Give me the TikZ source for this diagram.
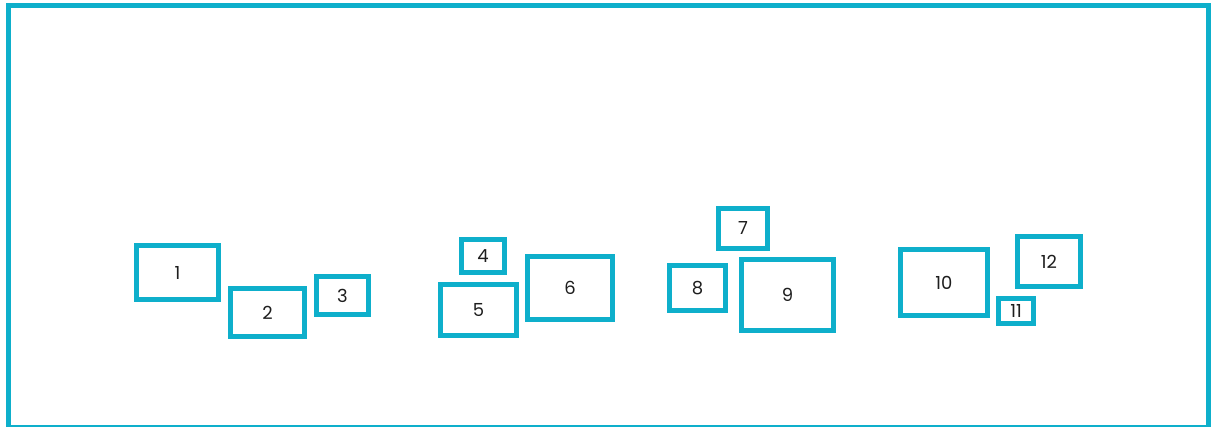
\documentclass[tikz,border=0pt]{standalone}
\usepackage{fontspec}
\setmainfont{Poppins}
\usetikzlibrary{positioning}
\definecolor{framecyan}{RGB}{14,175,203}
\definecolor{digitgray}{RGB}{30,30,30}

\begin{document}
\begin{tikzpicture}[x=1pt,y=-1pt,
    box/.style={draw=framecyan,line width=5pt,fill=white,inner sep=0pt,
      font=\fontsize{18}{18}\selectfont,text=digitgray}]
        \useasboundingbox (0,0) rectangle (1214,427);
        \draw[framecyan,line width=5pt] (8.5,5.5) rectangle (1208.5,427.5);
        % boxes: label/x/y/width/height
        \foreach \n/\x/\y/\w/\h in {1/177.5/272.5/82/54,2/267.5/312.5/74/48,
            3/342.5/295.5/52/38,4/483/256/43/33,5/478.5/310/76/51,
            6/570/288/85/63,7/743/228.5/49/40,8/697.5/288/56/45,
            9/787.5/295/92/71,10/944/282.5/87/66,11/1016/311/35/25,
            12/1049/261.5/63/50}
          \node[box,minimum width=\w pt,minimum height=\h pt] (b\n) at (\x,\y) {\n};
      \end{tikzpicture}
\end{document}
